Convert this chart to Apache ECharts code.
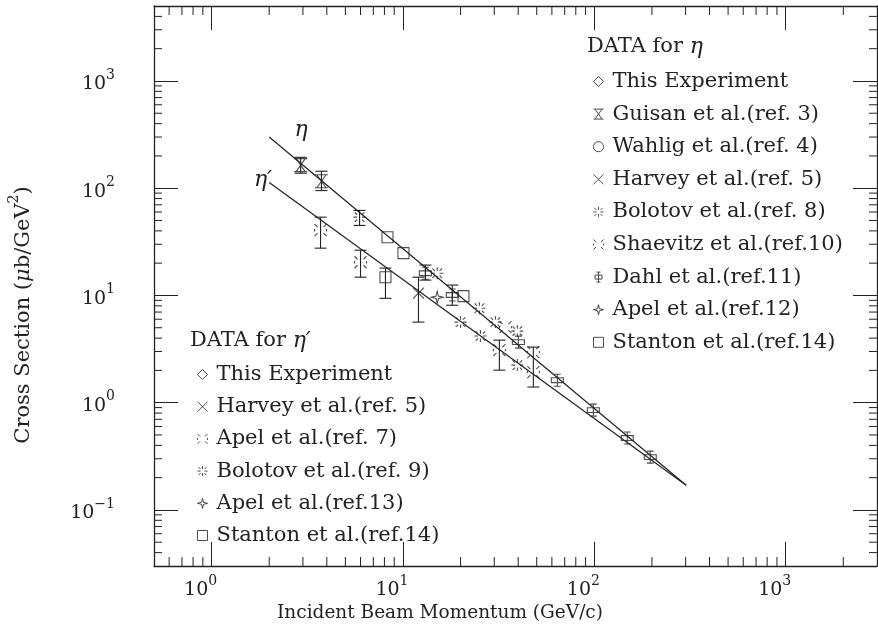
<!DOCTYPE html>
<html>
<head>
<meta charset="utf-8">
<script src="https://cdn.jsdelivr.net/npm/echarts@6/dist/echarts.min.js"></script>
<style>
  html, body { margin: 0; padding: 0; background: #ffffff; }
  #chart { width: 878px; height: 632px; }
</style>
</head>
<body>
<div id="chart"></div>
<script>
// Axis ranges (log–log)
const xRange = [0.5, 3000];
const yRange = [0.03, 5000];

// Minor log ticks drawn on all four sides of the frame
const xMinorTicks = [0.6, 0.7, 0.8, 0.9, 2, 3, 4, 5, 6, 7, 8, 9, 20, 30, 40, 50, 60, 70, 80, 90,
  200, 300, 400, 500, 600, 700, 800, 900, 2000];
const yMinorTicks = [0.04, 0.05, 0.06, 0.07, 0.08, 0.09, 0.2, 0.3, 0.4, 0.5, 0.6, 0.7, 0.8, 0.9,
  2, 3, 4, 5, 6, 7, 8, 9, 20, 30, 40, 50, 60, 70, 80, 90, 200, 300, 400, 500, 600, 700, 800, 900,
  2000, 3000, 4000];

// Fitted power-law curves [momentum GeV/c, cross section µb/GeV²]
const etaFit = [[2, 300], [302, 0.17]];
const etaPrimeFit = [[2, 113], [302, 0.17]];

// ---- η data  [p, σ] ; error bars [p, low, high]
const etaThisExp = [];
const etaGuisan = [[2.92, 164], [3.75, 116]];
const etaGuisanErr = [[2.92, 138, 194], [3.75, 95, 144]];
const etaWahlig = [];
const etaHarvey = [];
const etaBolotov = [[5.93, 53.7], [15.1, 16.1], [25.1, 7.6], [30.4, 5.64], [39.6, 4.65]];
const etaBolotovErr = [[5.93, 45, 62]];
const etaShaevitz = [[34.3, 5.07], [48, 2.96]];
const etaDahl = [[13.1, 16.1], [18.1, 10.1], [40.1, 3.67], [64.1, 1.62], [98.8, 0.853], [148.6, 0.468], [196, 0.311]];
const etaDahlErr = [[13.1, 13.9, 19.2], [18.1, 8.1, 12.5]];
const etaApel = [];
const etaStanton = [[8.3, 34.9], [10.06, 24.8], [20.7, 9.85]];

// ---- η′ data
const etapThisExp = [];
const etapHarvey = [[12.05, 10.5]];
const etapHarveyErr = [[12.05, 5.64, 14.8]];
const etapApel7 = [[3.71, 40.6], [6.0, 20.4], [31.9, 3.09], [48, 1.93]];
const etapApel7Err = [[3.71, 27.6, 53.7], [6.0, 14.8, 26.4], [31.9, 2.01, 3.83], [48, 1.4, 3.3]];
const etapBolotov = [[20, 5.64], [25.4, 4.18], [39.6, 2.24]];
const etapApel13 = [[15.1, 9.6]];
const etapStanton = [[8.1, 14.8]];
const etapStantonErr = [[8.1, 9.4, 18]];

// Legend entries
const etaLegend = ['This Experiment', 'Guisan et al.(ref. 3)', 'Wahlig et al.(ref. 4)', 'Harvey et al.(ref. 5)',
  'Bolotov et al.(ref. 8)', 'Shaevitz et al.(ref.10)', 'Dahl et al.(ref.11)', 'Apel et al.(ref.12)', 'Stanton et al.(ref.14)'];
const etapLegend = ['This Experiment', 'Harvey et al.(ref. 5)', 'Apel et al.(ref. 7)', 'Bolotov et al.(ref. 9)',
  'Apel et al.(ref.13)', 'Stanton et al.(ref.14)'];

const SERIF = "'DejaVu Serif', 'Liberation Serif', serif";
const INK = '#222';

// Marker glyphs
const SYM = {
  diamond: 'path://M5,0L10,5L5,10L0,5Z',
  hourglass: 'path://M0,0L10,0M0,10L10,10M1.5,0L8.5,10M8.5,0L1.5,10',
  circle: 'emptyCircle',
  cross: 'path://M0,0L10,10M10,0L0,10',
  star: 'path://M5,0L5,3M5,7L5,10M0,5L3,5M7,5L10,5M1,1L3,3M7,7L9,9M9,1L7,3M3,7L1,9',
  dotX: 'path://M0,0L2.5,2.5M7.5,7.5L10,10M10,0L7.5,2.5M2.5,7.5L0,10M0,4L0,6M10,4L10,6',
  dahl: 'path://M5,0L5,10M3,0L7,0M3,10L7,10M1.5,3L8.5,3L8.5,7L1.5,7Z',
  spark: 'path://M5,0L6,4L10,5L6,6L5,10L4,6L0,5L4,4Z',
  square: 'path://M0,0L10,0L10,10L0,10Z'
};

function scatter(name, data, symbol, size) {
  return {
    type: 'scatter', name, data, symbol, symbolSize: size || 11,
    itemStyle: { color: 'rgba(0,0,0,0)', borderColor: INK, borderWidth: 1.1 },
    emphasis: { disabled: true }, z: 4
  };
}

const errorBars = [].concat(etaGuisanErr, etaBolotovErr, etaDahlErr, etapHarveyErr, etapApel7Err, etapStantonErr);

function powerLabel(v) {
  const lg = Math.log10(v);
  const e = Math.round(lg);
  if (Math.abs(lg - e) > 1e-6) return '';
  return '{b|10}{s|' + (e < 0 ? '\u2212' + (-e) : e) + '}';
}
const labelRich = {
  b: { fontFamily: SERIF, fontSize: 19, color: INK, lineHeight: 26, verticalAlign: 'bottom' },
  s: { fontFamily: SERIF, fontSize: 14, color: INK, lineHeight: 14, verticalAlign: 'top' }
};

const frameAxis = {
  type: 'log', logBase: 10,
  axisLine: { show: true, lineStyle: { color: INK, width: 1.3 } },
  axisTick: { show: true, inside: true, length: 24, lineStyle: { color: INK, width: 1 } },
  splitLine: { show: false },
  minorTick: { show: false }
};

const chart = echarts.init(document.getElementById('chart'), null, { renderer: 'canvas' });

const LEGEND_FONT = 21;
const legendText = {
  formatter: n => '{t|' + n + '}',
  textStyle: { rich: { t: { fontFamily: SERIF, fontSize: LEGEND_FONT, color: INK, lineHeight: 22, padding: [0, 0, 0, 4] } } }
};
const etaIcons = [SYM.diamond, SYM.hourglass, 'circle', SYM.cross, SYM.star, SYM.dotX, SYM.dahl, SYM.spark, SYM.square];
const etapIcons = [SYM.diamond, SYM.cross, SYM.dotX, SYM.star, SYM.spark, SYM.square];
const headingRich = {
  a: { fontFamily: SERIF, fontSize: LEGEND_FONT, fill: INK },
  i: { fontFamily: SERIF, fontStyle: 'italic', fontSize: LEGEND_FONT + 1, fill: INK }
};

chart.setOption({
  animation: false,
  backgroundColor: '#ffffff',
  grid: { left: 154, right: 1, top: 6, bottom: 66, containLabel: false },
  xAxis: [
    Object.assign({}, frameAxis, {
      min: xRange[0], max: xRange[1], position: 'bottom',
      axisLabel: { formatter: powerLabel, rich: labelRich, margin: 8, padding: [0, 22, 0, 0], showMinLabel: false, showMaxLabel: false }
    }),
    Object.assign({}, frameAxis, {
      min: xRange[0], max: xRange[1], position: 'top', axisLabel: { show: false }
    })
  ],
  yAxis: [
    Object.assign({}, frameAxis, {
      min: yRange[0], max: yRange[1], position: 'left',
      axisLabel: { formatter: powerLabel, rich: labelRich, margin: 39, showMinLabel: false, showMaxLabel: false }
    }),
    Object.assign({}, frameAxis, {
      min: yRange[0], max: yRange[1], position: 'right', axisLabel: { show: false }
    })
  ],
  legend: [
    Object.assign({
      orient: 'vertical', left: 588, top: 66, itemWidth: 10, itemHeight: 10, itemGap: 11.6,
      data: etaLegend.map((n, i) => ({ name: n, icon: etaIcons[i] })),
      itemStyle: { color: 'rgba(0,0,0,0)', borderColor: INK, borderWidth: 1 },
      selectedMode: false
    }, legendText),
    Object.assign({
      orient: 'vertical', left: 192, top: 359, itemWidth: 10, itemHeight: 10, itemGap: 11.2,
      data: etapLegend.map((n, i) => ({ name: n, icon: etapIcons[i] })),
      itemStyle: { color: 'rgba(0,0,0,0)', borderColor: INK, borderWidth: 1 },
      selectedMode: false
    }, legendText)
  ],
  graphic: [
    { type: 'text', x: 587, y: 47, silent: true,
      style: { text: '{a|DATA for }{i|\u03b7}', verticalAlign: 'middle', rich: headingRich } },
    { type: 'text', x: 190, y: 341, silent: true,
      style: { text: '{a|DATA for }{i|\u03b7\u2032}', verticalAlign: 'middle', rich: headingRich } },
    { type: 'text', x: 301, y: 130, silent: true,
      style: { text: '\u03b7', align: 'center', verticalAlign: 'middle', font: 'italic 22px ' + SERIF, fill: INK } },
    { type: 'text', x: 263, y: 180, silent: true,
      style: { text: '\u03b7\u2032', align: 'center', verticalAlign: 'middle', font: 'italic 22px ' + SERIF, fill: INK } },
    { type: 'text', x: 440, y: 613, silent: true,
      style: { text: 'Incident Beam Momentum (GeV/c)', align: 'center', verticalAlign: 'middle', font: '18.5px ' + SERIF, fill: INK } },
    { type: 'text', x: 21, y: 315, rotation: Math.PI / 2, silent: true,
      style: { text: '{n|Cross Section (}{i|\u03bc}{n|b/GeV}{s|2}{n|)}', align: 'center', verticalAlign: 'middle',
        rich: {
          n: { fontFamily: SERIF, fontSize: 21, fill: INK, lineHeight: 27, verticalAlign: 'bottom' },
          i: { fontFamily: SERIF, fontStyle: 'italic', fontSize: 21, fill: INK, lineHeight: 27, verticalAlign: 'bottom' },
          s: { fontFamily: SERIF, fontSize: 14, fill: INK, lineHeight: 14, verticalAlign: 'top' }
        } } }
  ],
  series: [
    // minor log ticks on all sides
    {
      type: 'custom', silent: true, clip: false, z: 1,
      data: [[1, 1]],
      renderItem: (params, api) => {
        const children = [];
        const seg = (x1, y1, x2, y2) => children.push({ type: 'line', shape: { x1, y1, x2, y2 }, style: { stroke: INK, lineWidth: 1 } });
        xMinorTicks.forEach(v => {
          const b = api.coord([v, yRange[0]]);
          const t = api.coord([v, yRange[1]]);
          seg(b[0], b[1], b[0], b[1] - 9);
          seg(t[0], t[1], t[0], t[1] + 9);
        });
        yMinorTicks.forEach(v => {
          const l = api.coord([xRange[0], v]);
          const r = api.coord([xRange[1], v]);
          seg(l[0], l[1], l[0] + 8, l[1]);
          seg(r[0], r[1], r[0] - 8, r[1]);
        });
        return { type: 'group', children };
      }
    },
    // fitted curves
    { type: 'line', data: etaFit, showSymbol: false, symbol: 'none', silent: true, z: 3,
      lineStyle: { color: INK, width: 1.2 } },
    { type: 'line', data: etaPrimeFit, showSymbol: false, symbol: 'none', silent: true, z: 3,
      lineStyle: { color: INK, width: 1.2 } },
    // error bars
    {
      type: 'custom', silent: true, z: 3,
      data: errorBars,
      encode: { x: 0, y: [1, 2] },
      renderItem: (params, api) => {
        const lo = api.coord([api.value(0), api.value(1)]);
        const hi = api.coord([api.value(0), api.value(2)]);
        const w = 6;
        const st = { stroke: INK, lineWidth: 1.1 };
        return {
          type: 'group', children: [
            { type: 'line', shape: { x1: lo[0], y1: lo[1], x2: hi[0], y2: hi[1] }, style: st },
            { type: 'line', shape: { x1: lo[0] - w, y1: lo[1], x2: lo[0] + w, y2: lo[1] }, style: st },
            { type: 'line', shape: { x1: hi[0] - w, y1: hi[1], x2: hi[0] + w, y2: hi[1] }, style: st }
          ]
        };
      }
    },
    // η measurements
    scatter('This Experiment', etaThisExp, SYM.diamond),
    scatter('Guisan et al.(ref. 3)', etaGuisan, SYM.hourglass, 13),
    scatter('Wahlig et al.(ref. 4)', etaWahlig, SYM.circle),
    scatter('Harvey et al.(ref. 5)', etaHarvey, SYM.cross),
    scatter('Bolotov et al.(ref. 8)', etaBolotov, SYM.star, 12),
    scatter('Shaevitz et al.(ref.10)', etaShaevitz, SYM.dotX, 12),
    scatter('Dahl et al.(ref.11)', etaDahl, SYM.dahl, 12),
    scatter('Apel et al.(ref.12)', etaApel, SYM.spark),
    scatter('Stanton et al.(ref.14)', etaStanton, SYM.square, 11),
    // η′ measurements
    scatter('This Experiment', etapThisExp, SYM.diamond),
    scatter('Harvey et al.(ref. 5)', etapHarvey, SYM.cross),
    scatter('Apel et al.(ref. 7)', etapApel7, SYM.dotX, 12),
    scatter('Bolotov et al.(ref. 9)', etapBolotov, SYM.star, 12),
    scatter('Apel et al.(ref.13)', etapApel13, SYM.spark, 12),
    scatter('Stanton et al.(ref.14)', etapStanton, SYM.square, 11)
  ]
});
</script>
</body>
</html>
